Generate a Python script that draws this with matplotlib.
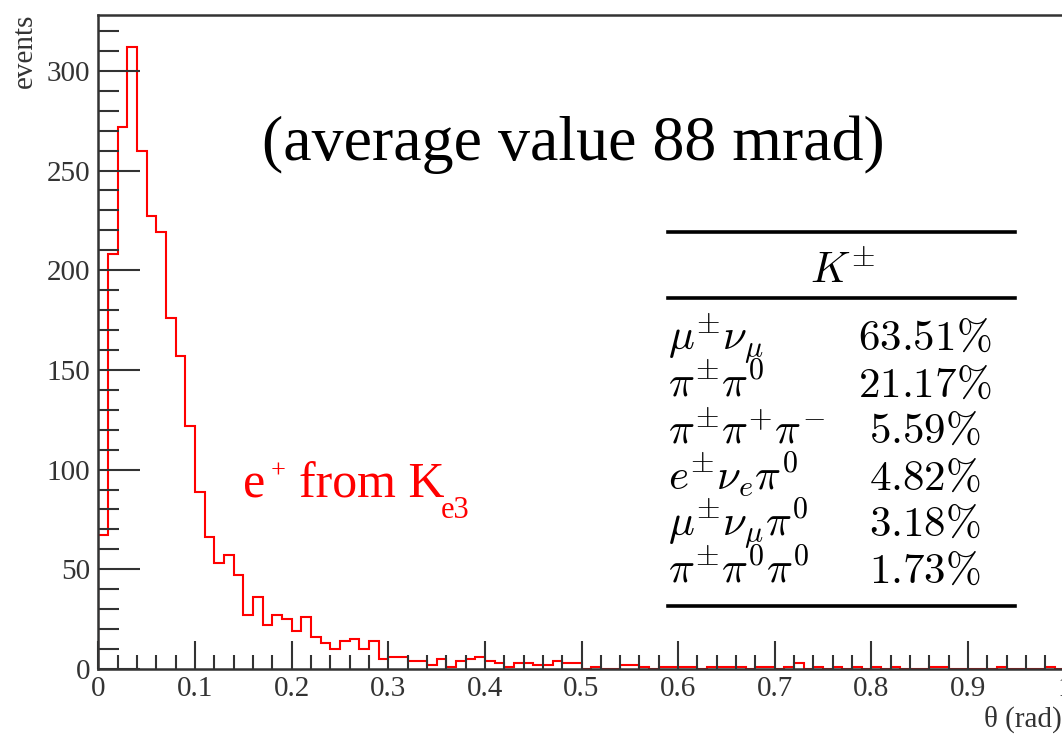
"""Opening angle distribution of e+ from Ke3 decays, with K+- branching table."""

import matplotlib.pyplot as plt
import numpy as np

# Histogram contents, 100 bins of 0.01 rad from 0 to 1
theta_counts = [
    67, 208, 272, 312, 260, 227, 219, 176, 157, 122,
    89, 66, 53, 57, 47, 27, 36, 22, 27, 25,
    19, 26, 16, 13, 10, 14, 15, 10, 14, 5,
    6, 6, 4, 4, 2, 5, 1, 4, 5, 6,
    4, 3, 1, 3, 3, 2, 2, 4, 3, 3,
    0, 1, 0, 0, 2, 2, 1, 0, 1, 1,
    1, 1, 0, 1, 1, 1, 1, 0, 1, 1,
    0, 1, 3, 0, 1, 0, 1, 0, 1, 0,
    1, 0, 1, 0, 0, 0, 1, 1, 0, 0,
    0, 0, 0, 1, 0, 0, 0, 0, 1, 0,
]
theta_min = 0.0
theta_max = 1.0

# K+- decay modes and branching ratios
decay_modes = [
    r"$\mu^{\pm}\nu_{\mu}$",
    r"$\pi^{\pm}\pi^{0}$",
    r"$\pi^{\pm}\pi^{+}\pi^{-}$",
    r"$e^{\pm}\nu_{e}\pi^{0}$",
    r"$\mu^{\pm}\nu_{\mu}\pi^{0}$",
    r"$\pi^{\pm}\pi^{0}\pi^{0}$",
]
branching = ["63.51", "21.17", "5.59", "4.82", "3.18", "1.73"]

SERIF = ["Liberation Serif", "DejaVu Serif"]
W, H = 1062, 738


def fx(px):
    return px / W


def fy(py):
    return 1 - py / H


def plot_theta(ax):
    """Draw the ROOT-style histogram."""
    edges = np.linspace(theta_min, theta_max, len(theta_counts) + 1)
    ax.stairs(theta_counts, edges, color="#ff0000", lw=1.5, baseline=0)

    ax.set_xlim(0, 1)
    ax.set_ylim(0, 328)
    ax.set_xticks(np.arange(0, 1.01, 0.1))
    ax.set_xticklabels(["0", "0.1", "0.2", "0.3", "0.4", "0.5", "0.6",
                        "0.7", "0.8", "0.9", "1"])
    ax.set_xticks(np.arange(0, 1.001, 0.02), minor=True)
    ax.set_yticks(np.arange(0, 301, 50))
    ax.set_yticks(np.arange(0, 321, 10), minor=True)

    ax.tick_params(axis="both", which="both", direction="in", color="#333333",
                   width=1.5, labelsize=21, labelcolor="#333333")
    ax.tick_params(axis="x", which="major", length=20, pad=5)
    ax.tick_params(axis="x", which="minor", length=10)
    ax.tick_params(axis="y", which="major", length=30, pad=6)
    ax.tick_params(axis="y", which="minor", length=15)
    for lab in ax.get_xticklabels() + ax.get_yticklabels():
        lab.set_family(SERIF)

    ax.spines["right"].set_visible(False)
    for side in ("left", "bottom", "top"):
        ax.spines[side].set_color("#333333")
        ax.spines[side].set_linewidth(1.8)


def plot_table(fig):
    """Draw the branching-ratio table on the figure."""
    x0, x1 = fx(668), fx(1015)
    for py in (232, 298, 606):
        fig.add_artist(plt.Line2D([x0, x1], [fy(py), fy(py)], color="black",
                                  lw=2.6))
    fig.text(fx(843), fy(283), r"$K^{\pm}$", fontsize=31, ha="center",
             va="baseline", math_fontfamily="cm")
    for i, (mode, br) in enumerate(zip(decay_modes, branching)):
        base = 350 + 46.5 * i
        fig.text(fx(668), fy(base), mode, fontsize=31, ha="left",
                 va="baseline", math_fontfamily="cm")
        fig.text(fx(925), fy(base), "$" + br + r"\%$", fontsize=31,
                 ha="center", va="baseline", math_fontfamily="cm")


def plot_labels(fig):
    """Free text: headline, red channel label and axis titles."""
    fig.text(fx(573), fy(160), "(average value 88 mrad)", family=SERIF,
             fontsize=46, ha="center", va="baseline")

    red = dict(family=SERIF, color="#ff0000", ha="left", va="baseline")
    fig.text(fx(243), fy(497), "e", fontsize=36, **red)
    fig.text(fx(271), fy(478), "+", fontsize=19, **red)
    fig.text(fx(299), fy(497), "from K", fontsize=36, **red)
    fig.text(fx(441), fy(518), "e3", fontsize=22, **red)

    fig.text(fx(25), fy(14), "events", family=SERIF, fontsize=21,
             rotation=90, ha="center", va="top", color="#333333")
    fig.text(fx(1062), fy(719), "θ (rad)", family=SERIF, fontsize=21,
             ha="right", va="center", color="#333333")


fig = plt.figure(figsize=(W / 100, H / 100), dpi=100)
ax = fig.add_axes([fx(98.4), fy(669), fx(1064.6) - fx(98.4), fy(15) - fy(669)])
plot_theta(ax)
plot_table(fig)
plot_labels(fig)

fig.savefig("out.png", dpi=100)
